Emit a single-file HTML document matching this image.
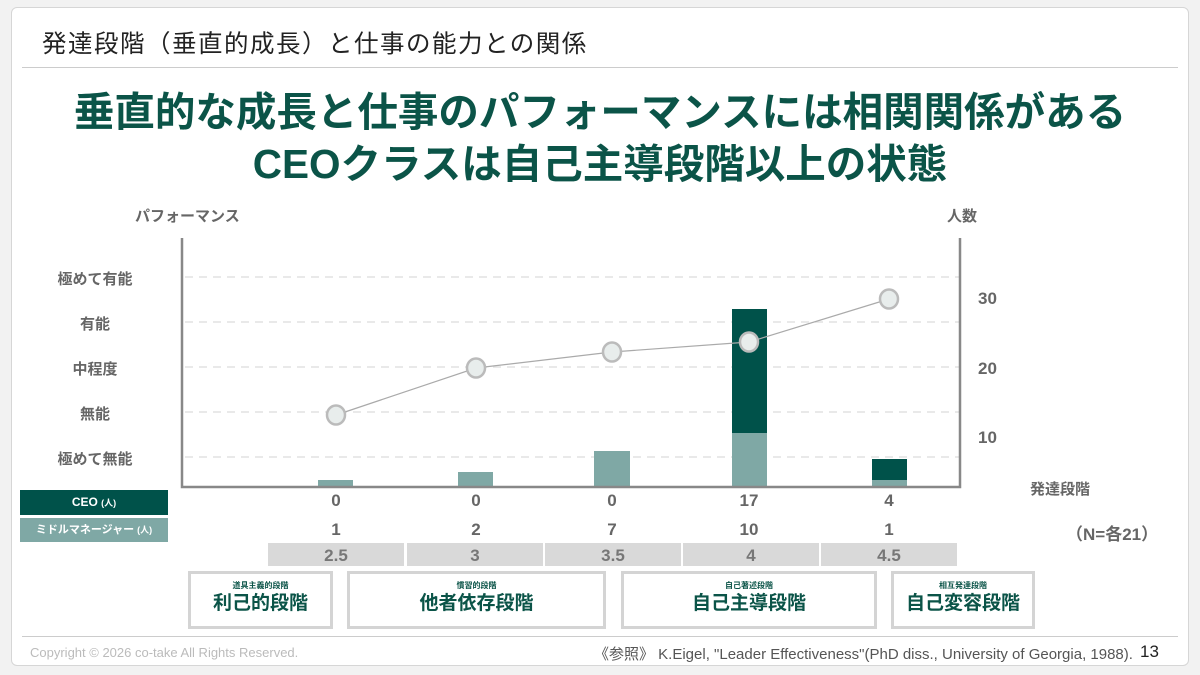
<!DOCTYPE html>
<html><head><meta charset="utf-8"><style>
*{margin:0;padding:0;box-sizing:border-box}
body{width:1200px;height:675px;background:#f2f2f2;position:relative;overflow:hidden;font-family:"Liberation Sans","Noto Sans CJK JP",sans-serif}
.card{position:absolute;left:11px;top:7px;width:1178px;height:659px;background:#fff;border:1px solid #d6d6d6;border-radius:6px}
.a{position:absolute;white-space:nowrap}
.g{color:#0b5448;font-weight:bold}
.lab{position:absolute;font-size:15px;font-weight:bold;color:#666;width:100px;text-align:center;left:45px}
.num{position:absolute;font-size:17px;font-weight:bold;color:#666;width:60px;text-align:center}
.gb{position:absolute;top:543px;height:23px;width:136px;background:#d9d9d9;color:#777;font-size:17px;font-weight:bold;text-align:center;line-height:25px}
.sb{position:absolute;top:571px;height:58px;border:3px solid #d4d4d4;text-align:center;background:#fff}
.sb .s{font-size:8px;color:#0b5448;margin-top:7px;line-height:10px;font-weight:bold}
.sb .b{font-size:19px;color:#0b5448;font-weight:bold;line-height:26px}
</style></head><body>
<div class="card"></div>
<div class="a" style="left:42px;top:25px;font-size:24.5px;color:#222;letter-spacing:1.5px">発達段階（垂直的成長）と仕事の能力との関係</div>
<div class="a" style="left:22px;top:67px;width:1156px;height:1px;background:#ccc"></div>
<div class="a g" style="left:0;width:1200px;text-align:center;top:86px;font-size:40.5px;line-height:52px">垂直的な成長と仕事のパフォーマンスには相関関係がある<br>CEOクラスは自己主導段階以上の状態</div>
<div class="a" style="left:135px;top:205px;font-size:15px;font-weight:bold;color:#666">パフォーマンス</div>
<div class="a" style="left:947px;top:205px;font-size:15px;font-weight:bold;color:#666">人数</div>
<div class="lab" style="top:268px">極めて有能</div>
<div class="lab" style="top:313px">有能</div>
<div class="lab" style="top:358px">中程度</div>
<div class="lab" style="top:403px">無能</div>
<div class="lab" style="top:448px">極めて無能</div>
<svg class="a" style="left:0;top:0" width="1200" height="675">
<g stroke="#e2e2e2" stroke-width="1.5" stroke-dasharray="8,6">
<line x1="185" y1="277" x2="960" y2="277"/><line x1="185" y1="322" x2="960" y2="322"/><line x1="185" y1="367" x2="960" y2="367"/><line x1="185" y1="412" x2="960" y2="412"/><line x1="185" y1="457" x2="960" y2="457"/>
</g>
<g fill="#7fa8a5">
<rect x="318" y="480" width="35" height="7"/><rect x="458" y="472" width="35" height="15"/><rect x="594" y="451" width="36" height="36"/><rect x="732" y="433" width="35" height="54"/><rect x="872" y="480" width="35" height="7"/>
</g>
<g fill="#00524a"><rect x="732" y="309" width="35" height="124"/><rect x="872" y="459" width="35" height="21"/></g>
<polyline points="336,415 476,368 612,352 749,342 889,299" fill="none" stroke="#aaa" stroke-width="1.2"/>
<g fill="#e8edec" stroke="#bbb" stroke-width="2.5">
<ellipse cx="336" cy="415" rx="9" ry="9.5"/><ellipse cx="476" cy="368" rx="9" ry="9.5"/><ellipse cx="612" cy="352" rx="9" ry="9.5"/><ellipse cx="749" cy="342" rx="9" ry="9.5"/><ellipse cx="889" cy="299" rx="9" ry="9.5"/>
</g>
<g stroke="#888" stroke-width="2.5" fill="none"><polyline points="182,238 182,487 960,487 960,238"/></g>
</svg>
<div class="a" style="left:978px;top:289px;font-size:17px;font-weight:bold;color:#666">30</div>
<div class="a" style="left:978px;top:359px;font-size:17px;font-weight:bold;color:#666">20</div>
<div class="a" style="left:978px;top:428px;font-size:17px;font-weight:bold;color:#666">10</div>
<div class="a" style="left:1030px;top:478px;font-size:15px;font-weight:bold;color:#666">発達段階</div>
<div class="a" style="left:1066px;top:520px;font-size:17px;font-weight:bold;color:#666">（N=各21）</div>
<div class="a" style="left:20px;top:490px;width:148px;height:25px;background:#00524a;color:#fff;font-size:12px;font-weight:bold;text-align:center;line-height:25px">CEO <span style="font-size:9px">(人)</span></div>
<div class="a" style="left:20px;top:518px;width:148px;height:24px;background:#7fa8a5;color:#fff;font-size:11px;font-weight:bold;text-align:center;line-height:24px">ミドルマネージャー <span style="font-size:9px">(人)</span></div>
<div class="num" style="left:306px;top:491px">0</div><div class="num" style="left:446px;top:491px">0</div><div class="num" style="left:582px;top:491px">0</div><div class="num" style="left:719px;top:491px">17</div><div class="num" style="left:859px;top:491px">4</div>
<div class="num" style="left:306px;top:520px">1</div><div class="num" style="left:446px;top:520px">2</div><div class="num" style="left:582px;top:520px">7</div><div class="num" style="left:719px;top:520px">10</div><div class="num" style="left:859px;top:520px">1</div>
<div class="gb" style="left:268px">2.5</div><div class="gb" style="left:407px">3</div><div class="gb" style="left:545px">3.5</div><div class="gb" style="left:683px">4</div><div class="gb" style="left:821px">4.5</div>
<div class="sb" style="left:188px;width:145px"><div class="s">道具主義的段階</div><div class="b">利己的段階</div></div>
<div class="sb" style="left:347px;width:259px"><div class="s">慣習的段階</div><div class="b">他者依存段階</div></div>
<div class="sb" style="left:621px;width:256px"><div class="s">自己著述段階</div><div class="b">自己主導段階</div></div>
<div class="sb" style="left:891px;width:144px"><div class="s">相互発達段階</div><div class="b">自己変容段階</div></div>
<div class="a" style="left:22px;top:636px;width:1156px;height:1px;background:#ccc"></div>
<div class="a" style="left:30px;top:645px;font-size:13px;color:#bbb">Copyright © 2026 co-take All Rights Reserved.</div>
<div class="a" style="left:594px;top:643px;font-size:15px;color:#555">《参照》 K.Eigel, "Leader Effectiveness"(PhD diss., University of Georgia, 1988).</div>
<div class="a" style="left:1140px;top:642px;font-size:17px;color:#222">13</div>
</body></html>
